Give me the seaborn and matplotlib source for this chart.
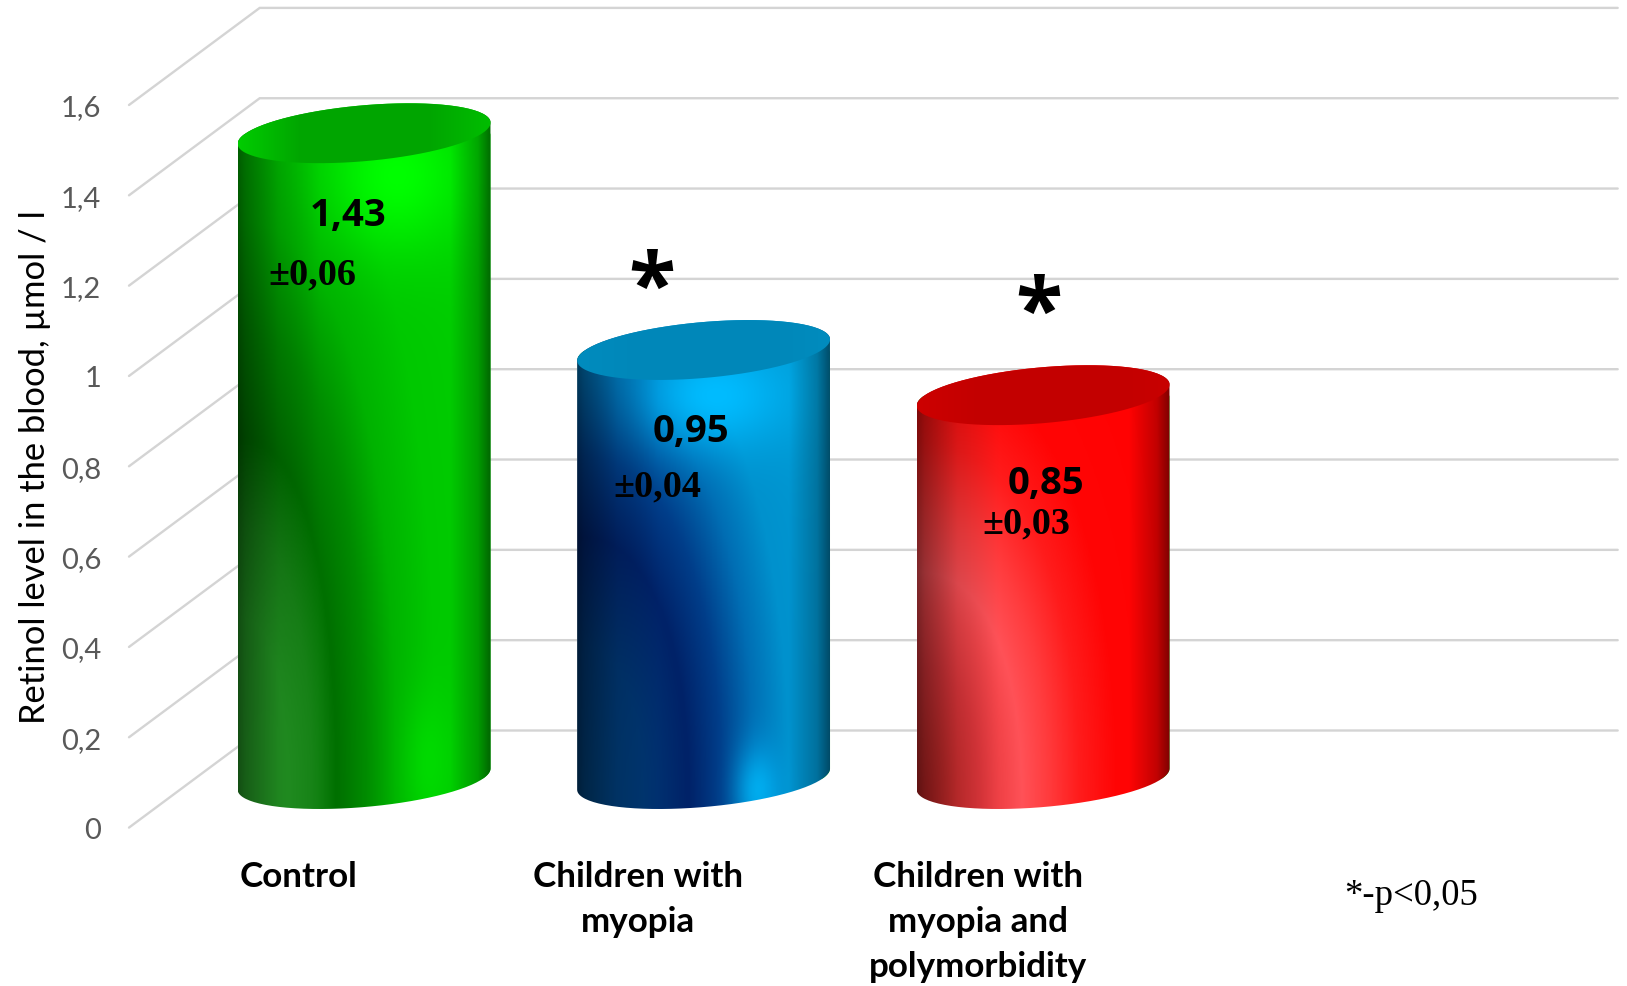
import numpy as np
import pandas as pd
import matplotlib
matplotlib.use("Agg")
import matplotlib.pyplot as plt
from matplotlib.path import Path
from matplotlib.patches import PathPatch
import seaborn as sns

# Values
categories = ["Control", "Children with\nmyopia", "Children with\nmyopia and\npolymorbidity", " "]
retinol = [1.43, 0.95, 0.85, np.nan]
errors = ["±0,06", "±0,04", "±0,03"]
significant = [False, True, True]
y_ticks = [0, 0.2, 0.4, 0.6, 0.8, 1, 1.2, 1.4, 1.6]
y_tick_labels = ["0", "0,2", "0,4", "0,6", "0,8", "1", "1,2", "1,4", "1,6"]
y_title = "Retinol level in the blood, µmol / l"
footnote = "*-p<0,05"

# Oblique depth of the plot box, in data units
DEPTH_X, DEPTH_Y = 0.385, 0.2150
# Cap ellipse of each cylinder: vertical half-axis and tilt
CAP_B, CAP_TILT = 0.062, 0.0235

# Shading of each cylinder: curved band radius/height, colour stops along it, highlights
shading = [
    dict(a=0.39, yc=0.063, b=0.80,
         r=[0, 0.5, 0.75, 1.0, 1.3, 1.6, 2.0, 3.0],
         c=[(40, 160, 40), (36, 155, 36), (24, 135, 24), (0, 112, 0), (0, 140, 0),
            (0, 178, 0), (0, 200, 0), (0, 210, 0)],
         spots=[(0.63, 1.443, 0.28, 0.17, (0, 255, 0)), (0.76, 0.14, 0.10, 0.16, (0, 218, 0))],
         cap=[(0, 205, 0), (0, 165, 0), (0, 165, 0), (0, 190, 0)]),
    dict(a=0.44, yc=0.041, b=0.60,
         r=[0, 0.6, 1.0, 1.3, 1.6, 1.9, 2.5],
         c=[(0, 65, 120), (0, 55, 115), (0, 34, 104), (0, 62, 138), (0, 110, 180),
            (0, 145, 205), (0, 155, 212)],
         spots=[(0.55, 0.956, 0.3, 0.12, (0, 188, 255)), (0.72, 0.08, 0.09, 0.10, (0, 172, 238))],
         cap=[(0, 140, 190), (0, 135, 185), (0, 135, 185), (0, 140, 190)]),
    dict(a=0.415, yc=0.041, b=0.523,
         r=[0, 0.3, 0.6, 0.85, 1.0, 1.25, 1.55, 1.9, 3.0],
         c=[(190, 35, 35), (205, 45, 45), (225, 55, 60), (245, 70, 75), (255, 82, 88),
            (255, 60, 62), (255, 28, 28), (255, 5, 5), (255, 0, 0)],
         spots=[],
         cap=[(205, 0, 0), (195, 0, 0), (195, 0, 0), (200, 0, 0)]),
]

# Label offsets from the centre of each cylinder's top, in pixels
value_offsets = [(-16, -82), (-13, -81), (3, -88)]
error_offsets = [(-52, -141), (-46, -136), (-17, -128)]
star_offsets = [None, (-52, 59), (-4, 79)]

sns.set_style("white")
plt.rcParams["font.family"] = ["Lato", "DejaVu Sans"]

W, H = 1627, 987
fig = plt.figure(figsize=(W / 100, H / 100), dpi=100, facecolor="white")
ax = fig.add_axes([129 / W, (H - 828.6) / H, 1358 / W, 722.6 / H])

frame = pd.DataFrame({"group": categories, "retinol": retinol})
sns.barplot(data=frame, x="group", y="retinol", order=categories, width=0.745,
            color="#00bb00", saturation=1, errorbar=None, ax=ax, zorder=2)

ax.set_xlim(-0.5, 3.5)
ax.set_ylim(0, 1.6)
ax.set_yticks(y_ticks, y_tick_labels)
ax.set_xlabel("")
ax.set_ylabel(y_title, fontsize=24.8, color="black", labelpad=7)
ax.tick_params(axis="y", length=0, pad=20, labelsize=21, labelcolor="#595959")
ax.tick_params(axis="x", length=0, pad=23, labelsize=25.2)
for lab in ax.get_xticklabels():
    lab.set_fontweight("bold")
    lab.set_linespacing(1.5)
    lab.set_color("black")
sns.despine(ax=ax, left=True, bottom=True, top=True, right=True)

# Floor-to-wall gridlines in oblique projection
for v in y_ticks:
    ax.plot([-0.5, -0.5 + DEPTH_X, 3.5 + DEPTH_X], [v, v + DEPTH_Y, v + DEPTH_Y],
            color="#d4d4d4", lw=1.7, clip_on=False, zorder=1, solid_joinstyle="miter")


def body_outline(left, right, base, top):
    """Silhouette of a tilted cylinder: lower arc of the base, upper arc of the top."""
    cx, hw = (left + right) / 2, (right - left) / 2
    lower = np.linspace(np.pi, 2 * np.pi, 80)
    upper = np.linspace(0, np.pi, 80)
    xs = np.r_[cx + hw * np.cos(lower), cx + hw * np.cos(upper)]
    ys = np.r_[base + CAP_B * np.sin(lower) + CAP_TILT * np.cos(lower),
               top + CAP_B * np.sin(upper) + CAP_TILT * np.cos(upper)]
    return Path(np.c_[xs, ys], closed=False)


def cap_outline(left, right, top):
    cx, hw = (left + right) / 2, (right - left) / 2
    t = np.linspace(0, 2 * np.pi, 160)
    return Path(np.c_[cx + hw * np.cos(t), top + CAP_B * np.sin(t) + CAP_TILT * np.cos(t)])


def body_colours(u, y, s):
    p = 2.3
    r = ((u / s["a"]) ** p + (np.abs(y - s["yc"]) / s["b"]) ** p) ** (1 / p)
    stops = np.array(s["c"], float)
    rgb = np.stack([np.interp(r, s["r"], stops[:, i]) for i in range(3)], axis=-1)
    for su, sy, wu, wy, col in s["spots"]:
        w = np.exp(-((u - su) / wu) ** 2 - ((y - sy) / wy) ** 2)[..., None]
        rgb = rgb * (1 - w) + np.array(col, float) * w
    edge = np.interp(u, [0, 0.03, 0.16, 0.32, 0.84, 0.95, 1], [0.5, 0.6, 0.86, 1, 1, 0.76, 0.5])
    return np.clip(rgb * edge[..., None], 0, 255).astype(np.uint8)


def place_image(img, extent, path):
    im = ax.imshow(img, extent=extent, origin="lower", aspect="auto",
                   interpolation="bilinear", zorder=3)
    clip = PathPatch(path, transform=ax.transData, fc="none", ec="none")
    ax.add_patch(clip)
    im.set_clip_path(clip)
    im.set_clip_box(fig.bbox)
    return im


# Turn each seaborn bar into a shaded cylinder standing mid-depth on the floor
tops = []
bars = [p for p in ax.patches if p.get_height() == p.get_height() and p.get_height() > 0]
for bar, s in zip(bars, shading):
    bar.set_x(bar.get_x() + DEPTH_X / 2)
    bar.set_y(DEPTH_Y / 2)
    left, right = bar.get_x(), bar.get_x() + bar.get_width()
    base, top = bar.get_y(), bar.get_y() + bar.get_height()
    outline = body_outline(left, right, base, top)
    bar.set_clip_path(PathPatch(outline, transform=ax.transData, fc="none", ec="none"))
    bar.set_clip_box(fig.bbox)

    ymin, ymax = base - 0.08, top + 0.08
    uu, yy = np.meshgrid(np.linspace(0, 1, 300), np.linspace(ymin, ymax, 500))
    place_image(body_colours(uu, yy, s), [left, right, ymin, ymax], outline)

    stops = np.array(s["cap"], float)
    cap_u = np.linspace(0, 1, 300)
    cap_rgb = np.stack([np.interp(cap_u, [0, 0.25, 0.75, 1], stops[:, i]) for i in range(3)], axis=-1)
    place_image(cap_rgb[None, :, :].astype(np.uint8),
                [left, right, top - 0.08, top + 0.08], cap_outline(left, right, top))
    tops.append(((left + right) / 2, top))

# Value, spread and significance labels
for (cx, top), v, err, star, vo, eo, so in zip(tops, retinol, errors, significant,
                                               value_offsets, error_offsets, star_offsets):
    ax.annotate(f"{v:.2f}".replace(".", ","), (cx, top), xytext=vo, textcoords="offset pixels",
                ha="center", va="center", fontsize=27.5, fontweight="bold", family="Open Sans",
                color="black", zorder=6, annotation_clip=False)
    ax.annotate(err, (cx, top), xytext=eo, textcoords="offset pixels", ha="center", va="center",
                fontsize=27.5, fontweight="bold", family="Liberation Serif", color="black",
                zorder=6, annotation_clip=False)
    if star:
        ax.annotate("*", (cx, top), xytext=so, textcoords="offset pixels", ha="center",
                    va="center", fontsize=62, fontweight="bold", family="Open Sans",
                    color="black", zorder=6, annotation_clip=False)

ax.text(3.276, -0.148, footnote, ha="center", va="center", fontsize=26.5,
        family="Liberation Serif", color="black", clip_on=False)

ax.set_xlim(-0.5, 3.5)
ax.set_ylim(0, 1.6)
fig.savefig("out.png", dpi=100)
